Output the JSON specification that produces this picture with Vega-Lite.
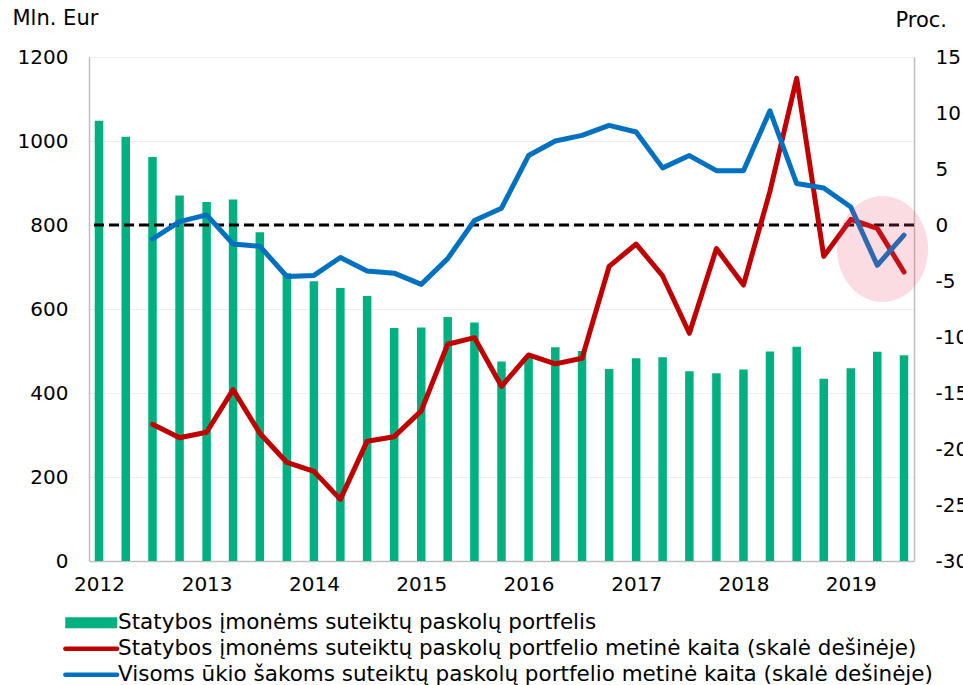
{
  "$schema": "https://vega.github.io/schema/vega-lite/v6.json",
  "width": 825,
  "height": 504,
  "autosize": {"type": "none"},
  "padding": {"left": 89, "top": 57, "right": 49, "bottom": 124},
  "background": "white",
  "data": {
    "values": [
      {"date": "2012-01-01", "portfolio": 1048, "construction": null, "all": null},
      {"date": "2012-04-01", "portfolio": 1010, "construction": null, "all": null},
      {"date": "2012-07-01", "portfolio": 962, "construction": -17.8, "all": -1.25},
      {"date": "2012-10-01", "portfolio": 870, "construction": -19.0, "all": 0.3},
      {"date": "2013-01-01", "portfolio": 855, "construction": -18.5, "all": 0.9},
      {"date": "2013-04-01", "portfolio": 861, "construction": -14.7, "all": -1.7},
      {"date": "2013-07-01", "portfolio": 783, "construction": -18.6, "all": -1.9},
      {"date": "2013-10-01", "portfolio": 685, "construction": -21.2, "all": -4.6},
      {"date": "2014-01-01", "portfolio": 666, "construction": -22.0, "all": -4.5},
      {"date": "2014-04-01", "portfolio": 650, "construction": -24.5, "all": -2.9},
      {"date": "2014-07-01", "portfolio": 631, "construction": -19.3, "all": -4.1},
      {"date": "2014-10-01", "portfolio": 555, "construction": -18.9, "all": -4.3},
      {"date": "2015-01-01", "portfolio": 556, "construction": -16.6, "all": -5.3},
      {"date": "2015-04-01", "portfolio": 581, "construction": -10.65, "all": -3.0},
      {"date": "2015-07-01", "portfolio": 568, "construction": -10.06, "all": 0.4},
      {"date": "2015-10-01", "portfolio": 475, "construction": -14.4, "all": 1.5},
      {"date": "2016-01-01", "portfolio": 485, "construction": -11.6, "all": 6.2},
      {"date": "2016-04-01", "portfolio": 509, "construction": -12.4, "all": 7.5},
      {"date": "2016-07-01", "portfolio": 500, "construction": -11.9, "all": 8.0},
      {"date": "2016-10-01", "portfolio": 457, "construction": -3.7, "all": 8.9},
      {"date": "2017-01-01", "portfolio": 483, "construction": -1.7, "all": 8.3},
      {"date": "2017-04-01", "portfolio": 485, "construction": -4.55, "all": 5.1},
      {"date": "2017-07-01", "portfolio": 452, "construction": -9.67, "all": 6.2},
      {"date": "2017-10-01", "portfolio": 447, "construction": -2.1, "all": 4.85},
      {"date": "2018-01-01", "portfolio": 456, "construction": -5.36, "all": 4.85},
      {"date": "2018-04-01", "portfolio": 499, "construction": 3.0, "all": 10.2},
      {"date": "2018-07-01", "portfolio": 510, "construction": 13.1, "all": 3.7},
      {"date": "2018-10-01", "portfolio": 434, "construction": -2.8, "all": 3.3},
      {"date": "2019-01-01", "portfolio": 459, "construction": 0.5, "all": 1.6},
      {"date": "2019-04-01", "portfolio": 498, "construction": -0.3, "all": -3.6},
      {"date": "2019-07-01", "portfolio": 490, "construction": -4.2, "all": -0.9}
    ]
  },
  "encoding": {
    "x": {
      "field": "date",
      "type": "temporal",
      "scale": {"domain": [{"year": 2011, "month": 12, "date": 15}, {"year": 2019, "month": 7, "date": 18}]},
      "axis": {
        "title": null,
        "format": "%Y",
        "tickCount": {"interval": "year", "step": 1},
        "labelFlush": false,
        "labelPadding": 13,
        "grid": false,
        "labelOverlap": false
      }
    }
  },
  "layer": [
    {
      "mark": {"type": "bar", "size": 8.5},
      "encoding": {
        "y": {
          "field": "portfolio",
          "type": "quantitative",
          "scale": {"domain": [0, 1200], "nice": false, "zero": true},
          "axis": {
            "orient": "left",
            "values": [0, 200, 400, 600, 800, 1000, 1200],
            "format": "d",
            "grid": true,
            "gridColor": "#eeeeee",
            "gridWidth": 1,
            "labelPadding": 21,
            "title": "Mln. Eur",
            "titleAngle": 0,
            "titleAlign": "left",
            "titleBaseline": "alphabetic",
            "titleX": -77,
            "titleY": -33
          }
        },
        "color": {
          "datum": "Statybos įmonėms suteiktų paskolų portfelis",
          "type": "nominal",
          "scale": {
            "domain": [
              "Statybos įmonėms suteiktų paskolų portfelis",
              "Statybos įmonėms suteiktų paskolų portfelio metinė kaita (skalė dešinėje)",
              "Visoms ūkio šakoms suteiktų paskolų portfelio metinė kaita (skalė dešinėje)"
            ],
            "range": ["#00b081", "#c00000", "#0070c0"]
          },
          "legend": {
            "title": null,
            "orient": "none",
            "legendX": -8.5,
            "legendY": 555,
            "direction": "vertical",
            "padding": 0,
            "symbolSize": 169,
            "symbolStrokeWidth": 0,
            "symbolOffset": 0,
            "labelOffset": 16,
            "rowPadding": 3,
            "labelFont": "DejaVu Sans",
            "labelFontSize": 21.5,
            "labelColor": "#000000",
            "labelLimit": 1200,
            "encode": {
              "symbols": {
                "update": {
                  "shape": {"signal": "datum.value === 'Statybos įmonėms suteiktų paskolų portfelis' ? 'M-4,-0.85H4V0.85H-4Z' : 'M-4,-0.33H4A0.33,0.33 0 0 1 4,0.33H-4A0.33,0.33 0 0 1 -4,-0.33Z'"},
                  "fill": {"signal": "scale('color', datum.value)"},
                  "stroke": {"value": "transparent"},
                  "strokeWidth": {"value": 0},
                  "opacity": {"value": 1},
                  "fillOpacity": {"value": 1}
                }
              }
            }
          }
        }
      }
    },
    {
      "layer": [
        {
          "data": {"values": [{"zero": 0}]},
          "mark": {"type": "rule", "color": "#000000", "strokeWidth": 3, "strokeDash": [10, 5]},
          "encoding": {
            "x": null,
            "y": {
              "field": "zero",
              "type": "quantitative",
              "scale": {"domain": [-30, 15], "nice": false, "zero": false},
              "axis": {
                "orient": "right",
                "values": [-30, -25, -20, -15, -10, -5, 0, 5, 10, 15],
                "labelExpr": "'' + datum.value",
                "grid": false,
                "labelPadding": 21,
                "title": "Proc.",
                "titleAngle": 0,
                "titleAlign": "left",
                "titleBaseline": "alphabetic",
                "titleX": -19,
                "titleY": -30.5
              }
            }
          }
        },
        {
          "mark": {"type": "line", "strokeWidth": 5, "strokeJoin": "round", "strokeCap": "round"},
          "encoding": {
            "y": {"field": "construction", "type": "quantitative", "title": "Proc."},
            "color": {"datum": "Statybos įmonėms suteiktų paskolų portfelio metinė kaita (skalė dešinėje)", "type": "nominal"}
          }
        },
        {
          "mark": {"type": "line", "strokeWidth": 5, "strokeJoin": "round", "strokeCap": "round"},
          "encoding": {
            "y": {"field": "all", "type": "quantitative", "title": "Proc."},
            "color": {"datum": "Visoms ūkio šakoms suteiktų paskolų portfelio metinė kaita (skalė dešinėje)", "type": "nominal"}
          }
        },
        {
          "data": {"values": [{"date": "2019-04-19", "value": -2.14}]},
          "mark": {
            "type": "point",
            "shape": "M-1,0A1,1.165 0 1,0 1,0A1,1.165 0 1,0 -1,0Z",
            "size": 8281,
            "filled": true,
            "fill": "#e8506e",
            "fillOpacity": 0.2,
            "opacity": 1,
            "strokeWidth": 0
          },
          "encoding": {
            "y": {"field": "value", "type": "quantitative", "title": "Proc."}
          }
        }
      ]
    }
  ],
  "resolve": {"scale": {"y": "independent"}, "axis": {"y": "independent"}},
  "config": {
    "font": "DejaVu Sans",
    "view": {"stroke": null},
    "axis": {
      "labelFont": "DejaVu Sans",
      "labelFontSize": 20,
      "labelColor": "#000000",
      "titleFont": "DejaVu Sans",
      "titleFontSize": 21,
      "titleFontWeight": "normal",
      "titleColor": "#000000",
      "ticks": false,
      "tickSize": 0,
      "domainColor": "#bfbfbf",
      "domainWidth": 1.5
    }
  }
}
